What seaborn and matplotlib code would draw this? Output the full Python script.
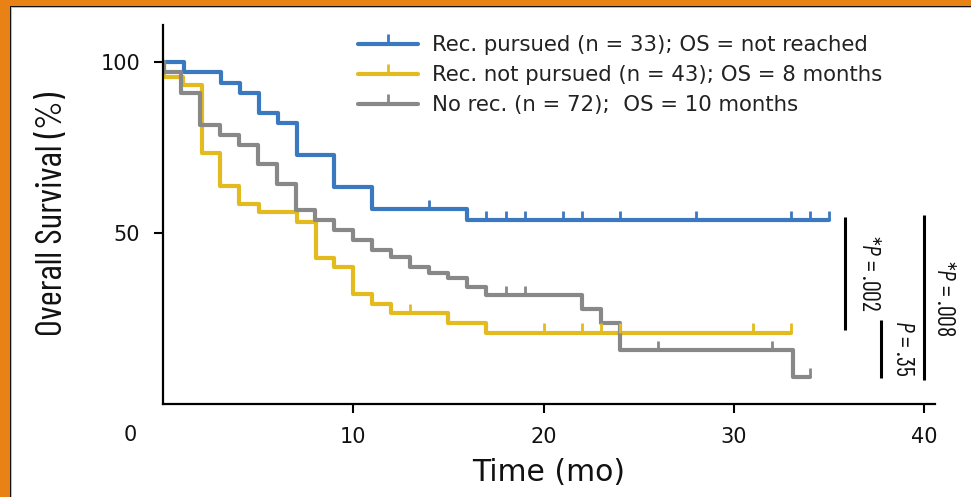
import numpy as np
import pandas as pd
import matplotlib
matplotlib.use("Agg")
import matplotlib.pyplot as plt
import seaborn as sns
from matplotlib.lines import Line2D
from matplotlib.patches import Rectangle
from matplotlib import font_manager

# ---------------- data ----------------
groups = ["Rec. pursued (n = 33); OS = not reached",
          "Rec. not pursued (n = 43); OS = 8 months",
          "No rec. (n = 72);  OS = 10 months"]
colors = ["#3A78C0", "#E3BB1E", "#888888"]

blue_t = [0, 1.1, 3.05, 4.05, 5.05, 6.03, 7.02, 9.0, 11.0, 16.0, 35.0]
blue_s = [100, 97.0, 93.9, 91.0, 85.0, 82.1, 72.8, 63.5, 57.0, 53.8, 53.8]
blue_ct = [14, 17, 18, 19, 21, 22, 24, 28, 33, 34, 35]
blue_cs = [57.0, 53.8, 53.8, 53.8, 53.8, 53.8, 53.8, 53.8, 53.8, 53.8, 53.8]

yel_t = [0, 0.05, 1.05, 2.05, 3.02, 4.02, 5.02, 7.02, 8.02, 9.0, 10.0, 11.0, 12.0, 15.0, 17.0, 33.0]
yel_s = [100, 95.5, 93.2, 73.5, 63.8, 58.6, 56.0, 53.3, 42.8, 40.1, 32.2, 29.2, 26.5, 23.6, 20.9, 20.9]
yel_ct = [13, 20, 22, 23, 24, 31, 33]
yel_cs = [26.5, 20.9, 20.9, 20.9, 20.9, 20.9, 20.9]

gray_t = [0, 0.05, 0.95, 1.95, 2.97, 4.0, 5.0, 6.0, 7.0, 8.0, 9.0, 10.0, 11.0, 12.0,
          13.0, 14.0, 15.0, 16.0, 17.0, 22.0, 23.0, 24.0, 33.1, 34.0]
gray_s = [100, 97.2, 90.8, 81.6, 78.7, 75.7, 70.2, 64.3, 56.6, 53.8, 50.9, 48.0, 45.0, 43.1,
          40.1, 38.2, 36.7, 34.3, 31.8, 27.7, 23.8, 15.8, 7.8, 7.8]
gray_ct = [18, 19, 26, 32, 34]
gray_cs = [31.8, 31.8, 15.8, 15.8, 7.8]

x_ticks = [10, 20, 30, 40]
y_ticks = [50, 100]
p_labels = ["*$P$ = .002", "$P$ = .35", "*$P$ = .008"]

# ---------------- frames ----------------
curve_df = pd.concat([
    pd.DataFrame({"time": blue_t, "surv": blue_s, "group": groups[0]}),
    pd.DataFrame({"time": yel_t, "surv": yel_s, "group": groups[1]}),
    pd.DataFrame({"time": gray_t, "surv": gray_s, "group": groups[2]}),
], ignore_index=True)
cens_df = pd.concat([
    pd.DataFrame({"time": blue_ct, "surv": blue_cs, "group": groups[0]}),
    pd.DataFrame({"time": yel_ct, "surv": yel_cs, "group": groups[1]}),
    pd.DataFrame({"time": gray_ct, "surv": gray_cs, "group": groups[2]}),
], ignore_index=True)
palette = dict(zip(groups, colors))

# ---------------- style ----------------
sns.set_theme(style="white")
names = {f.name for f in font_manager.fontManager.ttflist}
narrow = next((n for n in ["Barlow Condensed", "Asap Condensed", "Archivo Narrow",
                           "Liberation Sans Narrow", "Nimbus Sans Narrow", "Roboto Condensed",
                           "Arimo Narrow", "PT Sans Narrow", "Open Sans Condensed"]
               if n in names), "DejaVu Sans")
plt.rcParams["font.family"] = ["DejaVu Sans"]
plt.rcParams["mathtext.fontset"] = "custom"
plt.rcParams["mathtext.it"] = narrow + ":italic"
plt.rcParams["mathtext.rm"] = narrow
plt.rcParams["mathtext.sf"] = narrow

W, H = 971, 497
def fx(px):
    return px / W
def fy(py):
    return 1 - py / H

fig = plt.figure(figsize=(W / 100, H / 100), dpi=100)
fig.patch.set_facecolor("white")
ax = fig.add_axes([fx(163), fy(404), (935 - 163) / W, (404 - 25) / H])
ax.set_facecolor("white")

sns.lineplot(data=curve_df, x="time", y="surv", hue="group", hue_order=groups,
             palette=palette, drawstyle="steps-post", estimator=None, sort=False,
             linewidth=3.0, legend=False, ax=ax)
sns.scatterplot(data=cens_df, x="time", y="surv", hue="group", hue_order=groups,
                palette=palette, marker=2, s=45, linewidth=2.0, legend=False, ax=ax,
                zorder=3)

ax.set_xlim(0, 40.57)
ax.set_ylim(0, 110.8)
ax.set_xticks(x_ticks)
ax.set_yticks(y_ticks)
ax.set_xticklabels([str(v) for v in x_ticks])
ax.set_yticklabels([str(v) for v in y_ticks])
for side in ["top", "right"]:
    ax.spines[side].set_visible(False)
for side in ["left", "bottom"]:
    ax.spines[side].set_color("black")
    ax.spines[side].set_linewidth(1.6)
ax.tick_params(axis="both", which="major", bottom=True, left=True, direction="out",
               length=6.5, width=1.5, color="black", labelsize=15, labelcolor="#111111")
ax.tick_params(axis="x", pad=10)
ax.tick_params(axis="y", pad=10)

fig.text(fx(130), fy(435), "0", ha="center", va="center", fontsize=15, color="#111111")

ax.set_xlabel("Time (mo)", fontsize=21.5, color="#111111")
ax.xaxis.set_label_coords(0.5, (404 - 458) / 379)
ylab = ax.set_ylabel("Overall Survival (%)", fontsize=22, color="#111111", family=narrow)
ax.yaxis.set_label_coords((69 - 163) / 772, 0.5)

# legend
handles = [Line2D([0], [0], color=c, lw=3.0, marker=2, markersize=7, markeredgewidth=2.0)
           for c in colors]
leg = ax.legend(handles, groups, loc="upper left", bbox_to_anchor=(fx(358), fy(35)),
                bbox_transform=fig.transFigure, frameon=False, fontsize=15.3,
                handlelength=2.82, handletextpad=0.66, labelspacing=0.47,
                borderpad=0, borderaxespad=0, numpoints=1)
for t in leg.get_texts():
    t.set_color("#222222")

# p-value brackets
def dx(px):
    return (px - 163) / 19.03
def dy(py):
    return (404 - py) / 3.42
for x0, y0, y1 in [(845, 217, 330), (881, 320, 378), (924, 215, 380)]:
    ax.plot([dx(x0), dx(x0)], [dy(y0), dy(y1)], color="black", lw=2.2,
            clip_on=False, solid_capstyle="butt")
ptexts = []
for (px, py), lab in zip([(868, 273), (902, 348), (943, 298)], p_labels):
    ptexts.append(fig.text(fx(px), fy(py), lab, rotation=270, ha="center", va="center",
                           fontsize=16, family=narrow, color="#111111"))

# fit condensed texts to the reference's lengths
renderer = fig.canvas.get_renderer()
def fit_height(t, target):
    h = t.get_window_extent(renderer).height
    t.set_fontsize(t.get_fontsize() * target / h)
fit_height(ylab, 244)
fit_height(ptexts[0], 77)
for t in ptexts[1:]:
    t.set_fontsize(ptexts[0].get_fontsize())

# orange frame (top and left)
orange = "#E88214"
fig.patches.append(Rectangle((0, 0), fx(10), 1, transform=fig.transFigure,
                             facecolor=orange, edgecolor="none", zorder=10))
fig.patches.append(Rectangle((0, fy(6)), 1, 6 / H, transform=fig.transFigure,
                             facecolor=orange, edgecolor="none", zorder=10))
fig.patches.append(Rectangle((fx(10), 0), 1.2 / W, fy(6), transform=fig.transFigure,
                             facecolor="#111111", edgecolor="none", zorder=10))
fig.patches.append(Rectangle((fx(10), fy(7.2)), 1, 1.2 / H, transform=fig.transFigure,
                             facecolor="#111111", edgecolor="none", zorder=10))
fig.patches.append(Rectangle((fx(11.2), 0), 1.0 / W, fy(7.2), transform=fig.transFigure,
                             facecolor="#BBBBBB", edgecolor="none", zorder=10))
fig.patches.append(Rectangle((fx(11.2), fy(8.2)), 1, 1.0 / H, transform=fig.transFigure,
                             facecolor="#BBBBBB", edgecolor="none", zorder=10))

fig.savefig("out.png", dpi=100, facecolor="white")
